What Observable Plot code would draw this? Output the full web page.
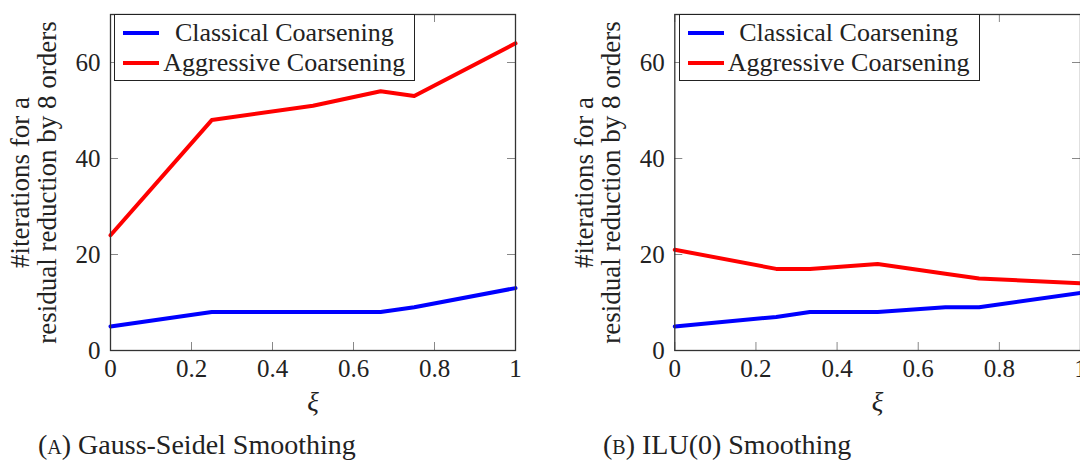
<!DOCTYPE html>
<html><head><meta charset="utf-8">
<script src="https://cdn.jsdelivr.net/npm/d3@7"></script>
<script src="https://cdn.jsdelivr.net/npm/@observablehq/plot@0.6"></script>
<style>
body{margin:0;background:#fff;overflow:hidden}
#wrap{position:relative;width:1080px;height:460px;overflow:hidden;font-family:"Liberation Serif","Times New Roman",serif;color:#222}
.panel{position:absolute;top:0}
.panel text{font-family:"Liberation Serif","Times New Roman",serif}
.legend{position:absolute;border:1.3px solid #222;background:#fff;box-sizing:border-box;width:301px;height:67px}
.row{position:absolute;left:0;right:0;height:30px}
.sw{position:absolute;left:8px;width:36px;height:4px;top:13px}
.lt{position:absolute;left:44px;right:5px;text-align:center;font-size:26px;line-height:30px;top:0;white-space:nowrap}
.cap{position:absolute;top:429px;font-size:28px;line-height:32px;white-space:nowrap}
.sc{font-variant:small-caps}
svg [aria-label="x-axis label"] text{font-style:italic;font-size:27px}
svg [aria-label="y-axis label"] text{font-size:27px}
</style></head><body><div id="wrap"></div>
<script>
// ---- data ----
const xiA = [0, 0.25, 0.5, 0.667, 0.75, 1];
const classicalA = [5, 8, 8, 8, 9, 13];
const aggressiveA = [24, 48, 51, 54, 53, 64];
const xiB = [0, 0.25, 0.333, 0.5, 0.667, 0.75, 1];
const classicalB = [5, 7, 8, 8, 9, 9, 12];
const aggressiveB = [21, 17, 17, 18, 16, 15, 14];
const seriesNames = ["Classical Coarsening", "Aggressive Coarsening"];
const seriesColors = ["#0000ff", "#ff0000"];
const xTicks = [0, 0.2, 0.4, 0.6, 0.8, 1];
const yTicks = [0, 20, 40, 60];
const yLabel = "#iterations for a\nresidual reduction by 8 orders";
const xLabel = "ξ";
const captionTags = ["a", "b"];
const captionTexts = ["Gauss-Seidel Smoothing", "ILU(0) Smoothing"];

function rows(xs, a, b) {
  return xs.flatMap((x, i) => [
    {xi: x, it: a[i], s: seriesNames[0]},
    {xi: x, it: b[i], s: seriesNames[1]}
  ]);
}

const wrap = document.getElementById("wrap");
const H = 420, MT = 14, MB = 70, TICK = 8;

function panel(data, left, width, ml, mr, legendLeft, capLeft, idx) {
  const pw = width - ml - mr, ph = H - MT - MB;
  const p = Plot.plot({
    width, height: H, marginTop: MT, marginBottom: MB, marginLeft: ml, marginRight: mr,
    style: {fontFamily: "'Liberation Serif', 'Times New Roman', serif", fontSize: "25px", color: "#222", background: "transparent", overflow: "visible"},
    x: {domain: [0, 1]},
    y: {domain: [0, 70]},
    color: {domain: seriesNames, range: seriesColors},
    marks: [
      Plot.tickX(xTicks, {x: d => d, insetTop: ph - TICK, stroke: "#888", strokeWidth: 1}),
      Plot.tickX(xTicks, {x: d => d, insetBottom: ph - TICK, stroke: "#888", strokeWidth: 1}),
      Plot.tickY(yTicks, {y: d => d, insetRight: pw - TICK, stroke: "#888", strokeWidth: 1}),
      Plot.tickY(yTicks, {y: d => d, insetLeft: pw - TICK, stroke: "#888", strokeWidth: 1}),
      Plot.line(data, {x: "xi", y: "it", z: "s", stroke: "s", strokeWidth: 4, strokeLinejoin: "round"}),
      Plot.frame({stroke: "#333", strokeWidth: 1.3}),
      Plot.axisX(xTicks, {tickSize: 0, tickPadding: 9, tickFormat: d => String(d), fill: "#222",
        label: xLabel, labelAnchor: "center", labelArrow: "none", labelOffset: 60}),
      Plot.axisY(yTicks, {tickSize: 0, tickPadding: 10, fill: "#222", lineHeight: 1.11,
        label: yLabel, labelAnchor: "center", labelArrow: "none", labelOffset: 101})
    ]
  });
  p.classList.add("panel");
  p.style.left = left + "px";
  wrap.appendChild(p);

  const lg = document.createElement("div");
  lg.className = "legend";
  lg.style.left = legendLeft + "px";
  lg.style.top = "13.7px";
  seriesNames.forEach((name, i) => {
    const r = document.createElement("div");
    r.className = "row";
    r.style.top = (3.6 + 30 * i) + "px";
    const sw = document.createElement("div");
    sw.className = "sw";
    sw.style.background = seriesColors[i];
    const t = document.createElement("div");
    t.className = "lt";
    t.textContent = name;
    r.appendChild(sw); r.appendChild(t);
    lg.appendChild(r);
  });
  wrap.appendChild(lg);

  const cap = document.createElement("div");
  cap.className = "cap";
  cap.style.left = capLeft + "px";
  cap.innerHTML = `(<span class="sc">${captionTags[idx]}</span>) ${captionTexts[idx]}`;
  wrap.appendChild(cap);
}

panel(rows(xiA, classicalA, aggressiveA), 0, 540, 110, 25, 114.3, 38, 0);
panel(rows(xiB, classicalB, aggressiveB), 540, 545, 134.3, 5, 678.6, 603, 1);
</script>
</body></html>
